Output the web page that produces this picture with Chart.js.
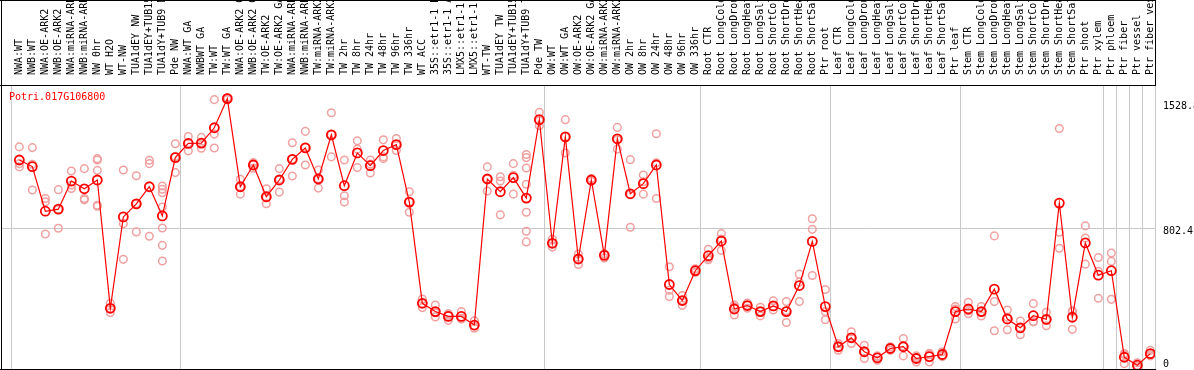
<!DOCTYPE html>
<html>
<head>
<meta charset="utf-8">
<script src="https://cdn.jsdelivr.net/npm/chart.js@4"></script>
<style>
html, body { margin: 0; padding: 0; background: #fff; }
#wrap { width: 1194px; height: 370px; }
</style>
</head>
<body>
<div id="wrap"><canvas id="expr-chart"></canvas></div>
<script>
const geneName = 'Potri.017G106800';

const sampleLabels = [
    'NWA:WT', 'NWB:WT', 'NWA:OE-ARK2', 'NWB:OE-ARK2', 'NWA:miRNA-ARK2', 'NWB:miRNA-ARK2',
    'NW 0hr', 'WT H2O', 'WT-NW', 'TUA1dEY NW', 'TUA1dEY+TUB15 NW', 'TUA1dY+TUB9 NW', 'Pde NW',
    'NWA:WT GA', 'NWBWT GA', 'TW:WT', 'TW:WT GA', 'NWA:OE-ARK2 GA', 'NWB:OE-ARK2 GA',
    'TW:OE-ARK2', 'TW:OE-ARK2 GA', 'NWA:miRNA-ARK2 GA', 'NWB:miRNA-ARK2 GA', 'TW:miRNA-ARK2',
    'TW:miRNA-ARK2 GA', 'TW 2hr', 'TW 8hr', 'TW 24hr', 'TW 48hr', 'TW 96hr', 'TW 336hr',
    'WT ACC', '35S::etr1-1 H2O', '35S::etr1-1 ACC', 'LMX5::etr1-1 H2O', 'LMX5::etr1-1 ACC',
    'WT-TW', 'TUA1dEY TW', 'TUA1dEY+TUB15 TW', 'TUA1dY+TUB9 TW', 'Pde TW',
    'OW:WT', 'OW:WT GA', 'OW:OE-ARK2', 'OW:OE-ARK2 GA', 'OW:miRNA-ARK2', 'OW:miRNA-ARK2 GA',
    'OW 2hr', 'OW 8hr', 'OW 24hr', 'OW 48hr', 'OW 96hr', 'OW 336hr',
    'Root CTR', 'Root LongCold', 'Root LongDrought', 'Root LongHeat', 'Root LongSalt',
    'Root ShortCold', 'Root ShortDrought', 'Root ShortHeat', 'Root ShortSalt', 'Ptr root',
    'Leaf CTR', 'Leaf LongCold', 'Leaf LongDrought', 'Leaf LongHeat', 'Leaf LongSalt',
    'Leaf ShortCold', 'Leaf ShortDrought', 'Leaf ShortHeat', 'Leaf ShortSalt', 'Ptr leaf',
    'Stem CTR', 'Stem LongCold', 'Stem LongDrought', 'Stem LongHeat', 'Stem LongSalt',
    'Stem ShortCold', 'Stem ShortDrought', 'Stem ShortHeat', 'Stem ShortSalt', 'Ptr shoot',
    'Ptr xylem', 'Ptr phloem', 'Ptr fiber', 'Ptr vessel', 'Ptr fiber vessel'
];

const meanValues = [
    1198, 1160, 901, 913, 1076, 1031, 1082, 338, 868, 944, 1043, 874, 1212,
    1294, 1296, 1385, 1554, 1043, 1169, 985, 1082, 1202, 1268, 1088, 1344, 1049,
    1239, 1165, 1253, 1287, 954, 367, 319, 291, 291, 241, 1088, 1014, 1096, 977, 1432,
    715, 1332, 624, 1082, 645, 1321, 1002, 1061, 1169, 476, 383, 556,
    643, 728, 334, 354, 319, 352, 319, 470, 726, 348,
    115, 167, 86, 51, 105, 115, 47, 58, 70, 319,
    334, 319, 449, 276, 225, 295, 274, 948, 286, 717, 530,
    556, 54, 8, 75
];

const replicateValues = [
    [1274, 1177, 1158], [1270, 1173, 1024], [975, 956, 769], [1026, 911, 802],
    [1134, 1053, 1033], [1148, 975, 967], [1206, 1198, 1138, 936, 930], [367, 338, 313],
    [1140, 829, 622], [1107, 944, 781], [1197, 1177, 756], [1047, 1028, 1008, 925, 804, 703, 612],
    [1292, 1219, 1125], [1334, 1297, 1251], [1329, 1296, 1266], [1548, 1348, 1268],
    [1560, 1554, 1548], [1086, 1043, 1000], [1183, 1174, 1150], [1031, 980, 944],
    [1148, 1086, 1012], [1298, 1203, 1105], [1364, 1271, 1169], [1140, 1089, 1035],
    [1472, 1344, 1216], [1198, 991, 954], [1309, 1261, 1154], [1198, 1174, 1123],
    [1315, 1216, 1206], [1323, 1287, 1253], [1014, 954, 895], [392, 367, 342],
    [357, 312, 288], [307, 298, 268], [319, 278, 276], [266, 235, 222],
    [1158, 1088, 1018], [1101, 1076, 880], [1177, 1109, 1000],
    [1230, 1212, 1152, 1057, 895, 785, 723], [1474, 1425, 1397],
    [738, 715, 693], [1432, 1332, 1239], [653, 624, 592], [1090, 1082, 1074],
    [655, 650, 629], [1387, 1315, 1261], [1200, 998, 808], [1111, 1072, 1000],
    [1350, 1182, 975], [579, 443, 406], [412, 383, 355], [567, 556, 546],
    [680, 630, 620], [771, 740, 674], [357, 346, 299], [369, 354, 338], [344, 319, 294],
    [381, 348, 328], [377, 324, 256], [536, 490, 377], [857, 796, 528], [447, 319, 272],
    [134, 115, 95], [202, 165, 134], [124, 86, 47], [62, 55, 37], [115, 105, 95],
    [163, 120, 62], [62, 52, 27], [77, 70, 27], [86, 66, 58], [348, 333, 276],
    [373, 323, 306], [348, 316, 293], [758, 377, 208], [328, 286, 214], [264, 225, 185],
    [365, 260, 260], [315, 270, 237], [1381, 779, 686], [323, 319, 216], [816, 746, 594],
    [633, 552, 396], [659, 610, 390], [76, 69, 17], [22, 2, 0], [94, 70, 62]
];

// last sample index of each group (a grey line is drawn after it)
const groupEnds = [-1, 12, 40, 52, 62, 72, 83, 84, 85, 86];
const yTickValues = [0, 802.4, 1528.8];

const monoFont = { family: 'DejaVu Sans Mono', size: 10 };
const xMin = -1.41;
const xMax = 87.36;

const meanPoints = meanValues.map((v, i) => ({ x: i, y: v }));
const replicatePoints = replicateValues.flatMap((reps, i) => reps.map(v => ({ x: i, y: v })));

const framePlugin = {
    id: 'frame',
    afterDraw(chart) {
        const { ctx, chartArea: a, height } = chart;
        ctx.save();
        ctx.strokeStyle = '#000';
        ctx.lineWidth = 1;
        ctx.beginPath();
        ctx.moveTo(0, 0.5); ctx.lineTo(a.right + 1, 0.5);
        ctx.moveTo(0, a.top + 0.5); ctx.lineTo(a.right + 1, a.top + 0.5);
        ctx.moveTo(0, a.bottom + 0.5); ctx.lineTo(a.right + 1, a.bottom + 0.5);
        ctx.moveTo(a.left + 0.5, 0); ctx.lineTo(a.left + 0.5, height);
        ctx.moveTo(a.right + 0.5, 0); ctx.lineTo(a.right + 0.5, a.top);
        ctx.stroke();
        ctx.fillStyle = '#ff0000';
        ctx.font = '10px "DejaVu Sans Mono"';
        ctx.textBaseline = 'middle';
        ctx.fillText(geneName, a.left + 8, a.top + 12);
        ctx.restore();
    }
};

const ctx = document.getElementById('expr-chart').getContext('2d');
const chart = new Chart(ctx, {
    type: 'line',
    data: {
        datasets: [{
            label: 'mean',
            data: meanPoints,
            borderColor: '#ff0000',
            borderWidth: 1.2,
            pointRadius: 4.5,
            pointBorderWidth: 1.8,
            pointBorderColor: '#ff0000',
            pointBackgroundColor: 'rgba(0,0,0,0)',
            tension: 0
        }, {
            label: 'replicates',
            data: replicatePoints,
            showLine: false,
            pointRadius: 3.8,
            pointBorderWidth: 1.5,
            pointBorderColor: '#f0a0a0',
            pointBackgroundColor: 'rgba(0,0,0,0)'
        }]
    },
    options: {
        responsive: true,
        maintainAspectRatio: false,
        animation: false,
        events: [],
        layout: { autoPadding: false, padding: { left: 1, right: 0, top: 0, bottom: 1 } },
        plugins: {
            legend: { display: false },
            tooltip: { enabled: false }
        },
        scales: {
            x: {
                type: 'linear',
                position: 'top',
                min: xMin,
                max: xMax,
                afterBuildTicks: s => { s.ticks = sampleLabels.map((_, i) => ({ value: i })); },
                afterFit: s => { s.height = 85; s.paddingLeft = 0; s.paddingRight = 0; },
                grid: { display: false },
                border: { display: false },
                ticks: {
                    autoSkip: false,
                    minRotation: 90,
                    maxRotation: 90,
                    padding: 2,
                    labelOffset: 12,
                    color: '#000',
                    font: monoFont,
                    callback: v => sampleLabels[v]
                }
            },
            xg: {
                type: 'linear',
                position: 'bottom',
                min: xMin,
                max: xMax,
                afterBuildTicks: s => { s.ticks = groupEnds.map(i => ({ value: i + 0.385 })); },
                afterFit: s => { s.height = 0; s.paddingLeft = 0; s.paddingRight = 0; },
                grid: { color: '#c8c8c8', drawTicks: false },
                border: { display: false },
                ticks: { display: false }
            },
            y: {
                position: 'right',
                min: -14,
                max: 1633,
                afterBuildTicks: s => { s.ticks = yTickValues.map(v => ({ value: v })); },
                afterFit: s => { s.width = 39; s.paddingTop = 0; s.paddingBottom = 0; },
                grid: {
                    drawTicks: false,
                    color: c => (c.tick && c.tick.value === 802.4) ? '#c8c8c8' : 'rgba(0,0,0,0)'
                },
                border: { color: '#c8c8c8' },
                ticks: {
                    padding: 8,
                    labelOffset: 3.5,
                    color: '#000',
                    font: monoFont,
                    callback: v => v === 0 ? ['0', ''] : String(v)
                }
            }
        }
    },
    plugins: [framePlugin]
});
</script>
</body>
</html>
